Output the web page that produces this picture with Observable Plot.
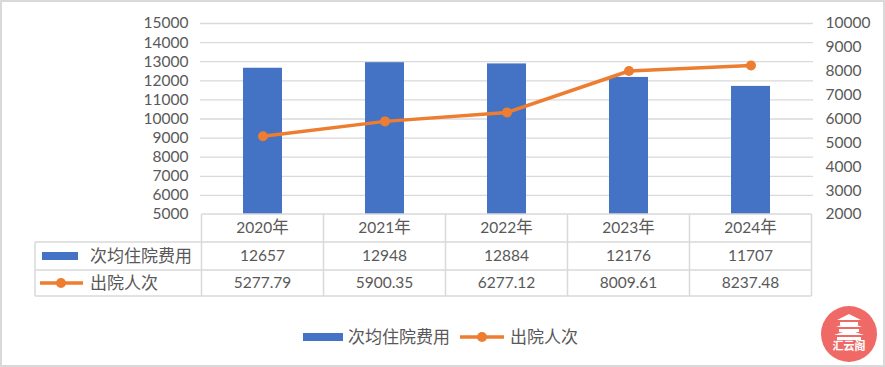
<!DOCTYPE html>
<html><head><meta charset="utf-8">
<script src="https://cdn.jsdelivr.net/npm/d3@7"></script>
<script src="https://cdn.jsdelivr.net/npm/@observablehq/plot@0.6"></script>
<style>body{margin:0;background:#fff} svg{display:block}</style>
</head><body><div id="chart"></div>
<script>
// ---- data ----
const years = ["2020", "2021", "2022", "2023", "2024"];
const yearSuffix = "年";
const costName = "次均住院费用";
const visitName = "出院人次";
const cost = [12657, 12948, 12884, 12176, 11707];
const visits = [5277.79, 5900.35, 6277.12, 8009.61, 8237.48];
const visitLabels = ["5277.79", "5900.35", "6277.12", "8009.61", "8237.48"];
const leftTicks = [5000, 6000, 7000, 8000, 9000, 10000, 11000, 12000, 13000, 14000, 15000];
const rightTicks = [2000, 3000, 4000, 5000, 6000, 7000, 8000, 9000, 10000];

const leftDomain = [5000, 15000], rightDomain = [2000, 10000];
const toLeft = v => leftDomain[0] + (v - rightDomain[0]) * (leftDomain[1] - leftDomain[0]) / (rightDomain[1] - rightDomain[0]);
const fromLeft = v => rightDomain[0] + (v - leftDomain[0]) * (rightDomain[1] - rightDomain[0]) / (leftDomain[1] - leftDomain[0]);

const data = years.map((y, i) => ({year: y, cost: cost[i], visits: visits[i], visitsL: toLeft(visits[i])}));

const BLUE = "#4472C4", ORANGE = "#ED7D31", GRID = "#d9d9d9", TXT = "#595959";
const NUMFONT = "Lato, 'Noto Sans CJK SC', sans-serif";
const CJKFONT = "'Noto Sans CJK SC', sans-serif";

const W = 885, H = 367;
const plot = Plot.plot({
  width: W, height: H,
  marginTop: 23, marginBottom: 153, marginLeft: 200, marginRight: 72,
  style: {fontFamily: NUMFONT, fontSize: "15.5px", color: TXT, background: "transparent", overflow: "visible"},
  x: {domain: years, paddingInner: 0.68, paddingOuter: 0.34, axis: null},
  y: {domain: leftDomain, axis: null},
  marks: [
    Plot.ruleY(leftTicks.slice(1), {stroke: GRID, strokeWidth: 1.3}),
    Plot.axisY(leftTicks, {anchor: "left", tickSize: 0, tickPadding: 12, label: null, tickFormat: d => String(d)}),
    Plot.axisY(rightTicks.map(toLeft), {anchor: "right", tickSize: 0, tickPadding: 12, label: null, tickFormat: d => String(Math.round(fromLeft(d)))}),
    Plot.barY(data, {x: "year", y1: leftDomain[0], y2: "cost", fill: BLUE}),
    Plot.line(data, {x: "year", y: "visitsL", stroke: ORANGE, strokeWidth: 3.5}),
    Plot.dot(data, {x: "year", y: "visitsL", r: 5, fill: ORANGE})
  ]
});
document.getElementById("chart").appendChild(plot);

// ---- data table & legend, placed with Plot's own scales ----
const svg = d3.select(plot);
const xs = plot.scale("x"), ys = plot.scale("y");
const bw = xs.bandwidth;
const step = xs.apply(years[1]) - xs.apply(years[0]);
const colL = y => xs.apply(y) + bw / 2 - step / 2;
const colC = y => xs.apply(y) + bw / 2;
const left = colL(years[0]), right = colL(years[years.length - 1]) + step;
const yTop = ys.apply(leftDomain[0]);
const rowH = [28, 28, 26];
const r1 = yTop + rowH[0], r2 = r1 + rowH[1], r3 = r2 + rowH[2];
const labelLeft = 35;
const g = svg.append("g");

// border of whole picture
g.append("rect").attr("x", 1).attr("y", 1).attr("width", W - 2).attr("height", H - 2)
  .attr("fill", "none").attr("stroke", GRID).attr("stroke-width", 2);

// table lines
const hl = (x1, x2, y) => g.append("line").attr("x1", x1).attr("x2", x2).attr("y1", y).attr("y2", y).attr("stroke", GRID).attr("stroke-width", 1.5);
const vl = (x, y1, y2) => g.append("line").attr("x1", x).attr("x2", x).attr("y1", y1).attr("y2", y2).attr("stroke", GRID).attr("stroke-width", 1.5);
hl(left, right, yTop);
hl(labelLeft, right, r1);
hl(labelLeft, right, r2);
hl(labelLeft, right, r3);
vl(labelLeft, r1, r3);
years.forEach(y => vl(colL(y), yTop, r3));
vl(right, yTop, r3);

const txt = (x, y, s, opts = {}) => g.append("text").attr("x", x).attr("y", y).attr("dy", "0.35em")
  .attr("text-anchor", opts.anchor || "middle").attr("fill", TXT)
  .attr("font-family", opts.font || NUMFONT).attr("font-size", opts.size || "15.5px").text(s);

// header
years.forEach(y => {
  const t = txt(colC(y), (yTop + r1) / 2, "");
  t.append("tspan").text(y);
  t.append("tspan").attr("font-family", CJKFONT).attr("font-size", "16.5px").text(yearSuffix);
});
// values
data.forEach((d, i) => {
  txt(colC(d.year), (r1 + r2) / 2, String(d.cost));
  txt(colC(d.year), (r2 + r3) / 2, visitLabels[i]);
});
// row labels with keys
g.append("rect").attr("x", 42).attr("y", (r1 + r2) / 2 - 4).attr("width", 36).attr("height", 8).attr("fill", BLUE);
txt(90, (r1 + r2) / 2, costName, {anchor: "start", font: CJKFONT, size: "17px"});
g.append("line").attr("x1", 40).attr("x2", 83).attr("y1", (r2 + r3) / 2).attr("y2", (r2 + r3) / 2).attr("stroke", ORANGE).attr("stroke-width", 3.5);
g.append("circle").attr("cx", 61).attr("cy", (r2 + r3) / 2).attr("r", 5).attr("fill", ORANGE);
txt(90, (r2 + r3) / 2, visitName, {anchor: "start", font: CJKFONT, size: "17px"});

// bottom legend
const ly = 337;
g.append("rect").attr("x", 303).attr("y", ly - 4).attr("width", 40).attr("height", 8).attr("fill", BLUE);
txt(348, ly, costName, {anchor: "start", font: CJKFONT, size: "17px"});
g.append("line").attr("x1", 460).attr("x2", 504).attr("y1", ly).attr("y2", ly).attr("stroke", ORANGE).attr("stroke-width", 3.5);
g.append("circle").attr("cx", 482).attr("cy", ly).attr("r", 5).attr("fill", ORANGE);
txt(510, ly, visitName, {anchor: "start", font: CJKFONT, size: "17px"});

// watermark badge
const wm = g.append("g").attr("transform", "translate(849,334)");
wm.append("circle").attr("r", 28).attr("fill", "#ef6a66");
wm.append("path").attr("d", "M-12,-14 L0,-20 L12,-14 Z M-9,-12 h18 v3 h-18 Z M-13,-7 L0,-12 L13,-7 Z M-10,-5 h20 v3 h-20 Z M-15,1 L0,-4 L15,1 Z M-12,3 h24 v3 h-24 Z").attr("fill", "#fff");
wm.append("text").attr("y", 16).attr("text-anchor", "middle").attr("fill", "#fff")
  .attr("font-family", CJKFONT).attr("font-size", "11px").attr("font-weight", "bold").text("汇云阁");
</script>
</body></html>
